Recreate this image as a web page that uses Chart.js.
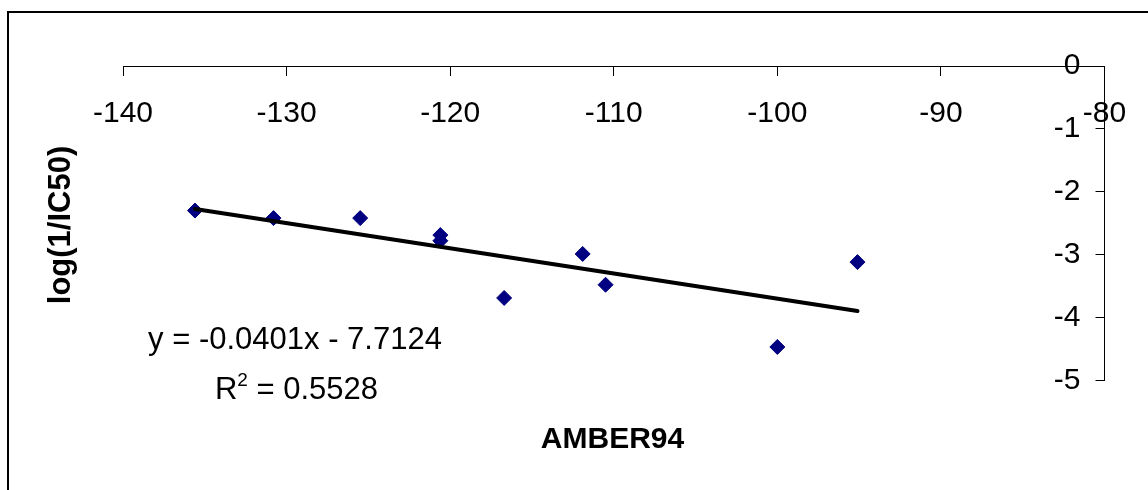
<!DOCTYPE html>
<html><head><meta charset="utf-8">
<script src="https://cdn.jsdelivr.net/npm/chart.js@4/dist/chart.umd.min.js"></script>
<style>
html,body{margin:0;padding:0;background:#fff;overflow:hidden}
#wrap{position:relative;width:1148px;height:490px;overflow:hidden}
#frame{position:absolute;left:7px;top:11px;width:1300px;height:700px;border:2px solid #000;box-sizing:border-box}
canvas{position:absolute;left:0;top:0}
</style></head><body>
<div id="wrap"><div id="frame"></div><canvas id="c" width="1148" height="490"></canvas></div>
<script>
const amber94 = [-135.6, -130.8, -125.5, -120.6, -120.6, -116.7, -111.9, -110.5, -100.0, -95.1];
const logIC50 = [-2.30, -2.42, -2.42, -2.69, -2.78, -3.69, -2.99, -3.48, -4.47, -3.12];
const xTicks = [-140, -130, -120, -110, -100, -90, -80];
const yTicks = [0, -1, -2, -3, -4, -5];
const trendSlope = -0.0401;
const trendIntercept = -7.7124;
const equationText = 'y = -0.0401x - 7.7124';
const r2Parts = ['R', '2', ' = 0.5528'];
const xTitle = 'AMBER94';
const yTitle = 'log(1/IC50)';

const FONT = '"Liberation Sans", Arial, sans-serif';
const pts = amber94.map((x, i) => ({x: x, y: logIC50[i]}));
const xMin = Math.min(...amber94), xMax = Math.max(...amber94);
const trend = [xMin, xMax].map(x => ({x: x, y: trendSlope * x + trendIntercept}));

const textPlugin = {
  id: 'texts',
  afterDraw(chart) {
    const ctx = chart.ctx;
    ctx.save();
    ctx.fillStyle = '#000';
    ctx.textBaseline = 'alphabetic';
    ctx.textAlign = 'center';
    ctx.font = '31px ' + FONT;
    ctx.fillText(equationText, 295, 349);
    // R^2 line
    ctx.textAlign = 'left';
    const big = '31px ' + FONT, small = '19px ' + FONT;
    ctx.font = big; const wR = ctx.measureText(r2Parts[0]).width;
    const wRest = ctx.measureText(r2Parts[2]).width;
    ctx.font = small; const w2 = ctx.measureText(r2Parts[1]).width;
    let x0 = 296.5 - (wR + w2 + wRest) / 2;
    ctx.font = big; ctx.fillText(r2Parts[0], x0, 399);
    ctx.font = small; ctx.fillText(r2Parts[1], x0 + wR, 386);
    ctx.font = big; ctx.fillText(r2Parts[2], x0 + wR + w2, 399);
    ctx.textAlign = 'center';
    ctx.font = 'bold 30px ' + FONT;
    ctx.fillText(xTitle, 612.5, 448);
    ctx.font = 'bold 31px ' + FONT;
    ctx.translate(70, 225);
    ctx.rotate(-Math.PI / 2);
    ctx.fillText(yTitle, 0, 0);
    ctx.restore();
  }
};

new Chart(document.getElementById('c'), {
  type: 'scatter',
  data: {
    datasets: [
      {
        type: 'line', data: trend, borderColor: '#000', borderWidth: 4,
        pointRadius: 0, fill: false, borderCapStyle: 'round', order: 0
      },
      {
        type: 'scatter', data: pts, pointStyle: 'rectRot', pointRadius: 7.5,
        backgroundColor: '#000080', borderColor: '#000080', borderWidth: 1, order: 1
      }
    ]
  },
  options: {
    responsive: false, animation: false,
    layout: {padding: {left: 123, top: 66, right: 43.5, bottom: 109.7}},
    plugins: {legend: {display: false}, tooltip: {enabled: false}},
    scales: {
      x: {
        type: 'linear', position: 'top', min: -140, max: -80,
        afterBuildTicks: s => { s.ticks = xTicks.map(v => ({value: v})); },
        afterFit: s => { s.height = 0; s.paddingLeft = 0; s.paddingRight = 0; },
        grid: {display: true, drawOnChartArea: false, drawTicks: true, tickLength: -10, color: '#000', lineWidth: 1},
        border: {display: true, color: '#000', width: 1},
        ticks: {mirror: true, padding: 30, maxRotation: 0, autoSkip: false, color: '#000',
                font: {family: FONT, size: 30}}
      },
      y: {
        type: 'linear', position: 'right', min: -5, max: 0,
        afterBuildTicks: s => { s.ticks = yTicks.map(v => ({value: v})); },
        afterFit: s => { s.width = 0; s.paddingTop = 0; s.paddingBottom = 0; },
        grid: {display: true, drawOnChartArea: false, drawTicks: true, tickLength: -9, color: '#000', lineWidth: 1},
        border: {display: true, color: '#000', width: 1},
        ticks: {mirror: true, padding: -24, autoSkip: false, color: '#000',
                font: {family: FONT, size: 30}}
      }
    }
  },
  plugins: [textPlugin]
});
</script>
</body></html>
